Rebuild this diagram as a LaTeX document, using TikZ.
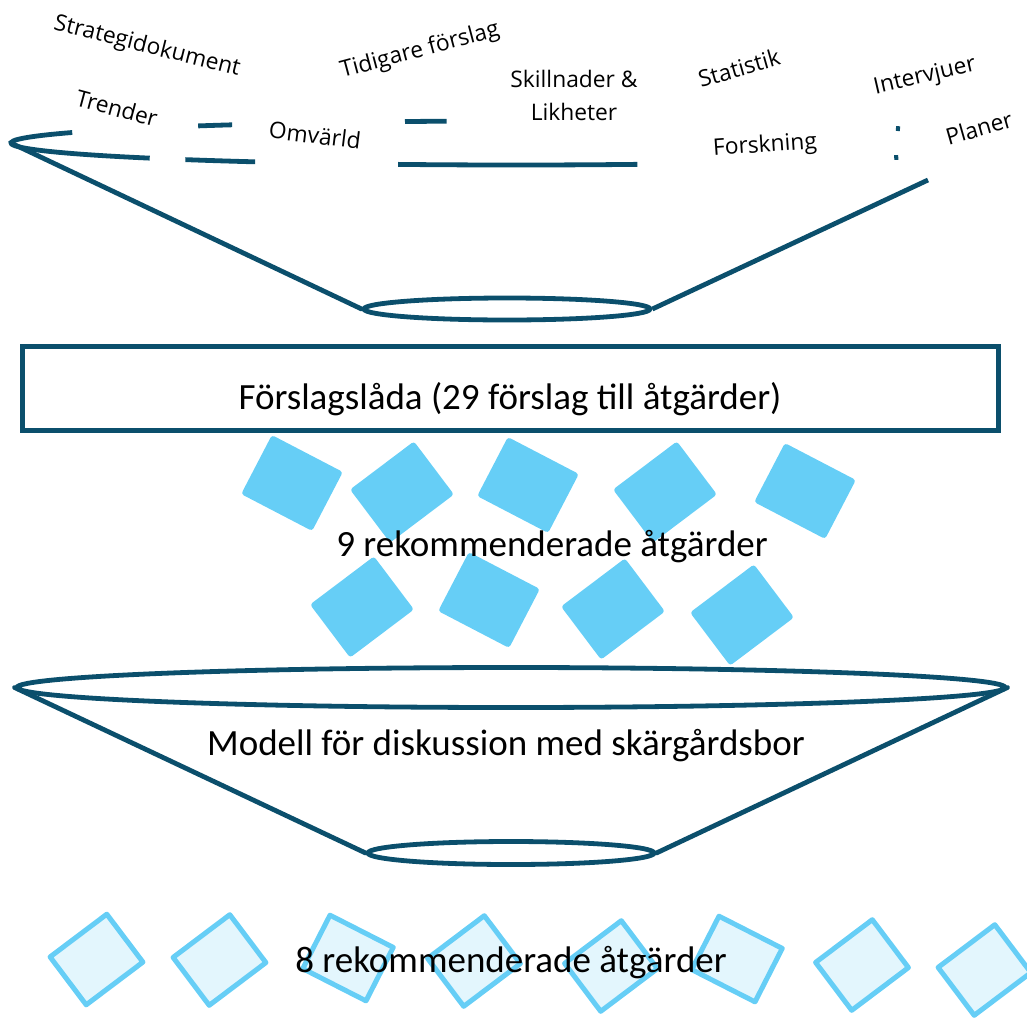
\documentclass[tikz,border=0pt]{standalone}
\usepackage{fontspec}
\setmainfont{Carlito}
\newfontfamily\labfont{Open Sans}
\usetikzlibrary{shapes.geometric}
\definecolor{tealline}{HTML}{0B4F6C}
\definecolor{sky}{HTML}{66CEF6}
\definecolor{skylight}{HTML}{E3F6FD}
\tikzset{
  rim/.style={draw=tealline, line width=4.8pt},
  funnelline/.style={draw=tealline, line width=4.8pt, line cap=round},
  lab/.style={font=\labfont\fontsize{22.8}{33}\selectfont, inner sep=0pt, align=center, text=black},
  mainlab/.style={font=\fontsize{37}{44}\selectfont, inner sep=0pt, anchor=base, text=black},
  fsq/.style={rectangle, fill=sky, rounded corners=3pt, minimum width=80pt, minimum height=66.5pt, inner sep=0pt},
  osq/.style={rectangle, draw=sky, fill=skylight, line width=5pt, line join=round, minimum width=71pt, minimum height=60pt, inner sep=0pt},
  rimell/.style={ellipse, draw=tealline, line width=4.8pt, inner sep=0pt},
}
\begin{document}
\begin{tikzpicture}[x=1pt, y=-1pt]
\useasboundingbox (0,0) rectangle (1027,1017);

% ---------- top funnel ----------
% visible pieces of the upper rim (partly hidden behind the labels)
\draw[rim, line cap=butt] (516,143) ++(136.5:505 and 22) arc[start angle=136.5, end angle=208.5, x radius=505, y radius=22];
\draw[rim, line cap=butt] (516,143) ++(231:505 and 22) arc[start angle=231, end angle=235.8, x radius=505, y radius=22];
\draw[rim, line cap=butt] (516,143) ++(257.3:505 and 22) arc[start angle=257.3, end angle=262.1, x radius=505, y radius=22];
\draw[rim, line cap=butt] (516,143) ++(318.8:505 and 22) arc[start angle=318.8, end angle=319.5, x radius=505, y radius=22];
\draw[rim, line cap=butt] (516,143) ++(121.1:505 and 22) arc[start angle=121.1, end angle=130.9, x radius=505, y radius=22];
\draw[rim, line cap=butt] (516,143) ++(76.1:505 and 22) arc[start angle=76.1, end angle=103.5, x radius=505, y radius=22];
\draw[rim, line cap=butt] (516,143) ++(40.8:505 and 22) arc[start angle=40.8, end angle=41.5, x radius=505, y radius=22];

\coordinate (TL) at (11,143);
\coordinate (TR) at (928,180);
\node[rimell, minimum width=286pt, minimum height=22pt] (S1) at (507,309) {};
\draw[funnelline] (TL) -- (S1.west);
\draw[funnelline, line cap=butt] (S1.east) -- (TR);

% labels
\node[lab, rotate=-14] (l1) at (147,47) {Strategidokument};
\node[lab, rotate=-15] (l2) at (117,108) {Trender};
\node[lab, rotate=15] (l3) at (420,51) {Tidigare förslag};
\node[lab, rotate=-7] (l4) at (315,135) {Omvärld};
\node[lab] (l5) at (574,95) {Skillnader \&\\Likheter};
\node[lab, rotate=16] (l6) at (739,68) {Statistik};
\node[lab, rotate=4] (l7) at (765,146) {Forskning};
\node[lab, rotate=13] (l8) at (925,77) {Intervjuer};
\node[lab, rotate=16] (l9) at (979,128) {Planer};

% ---------- box ----------
\node[draw=tealline, line width=5pt, minimum width=976pt, minimum height=84pt, inner sep=0pt] (box) at (510.5,388.5) {};
\node[mainlab] (boxtxt) at (510,409) {Förslagslåda (29 förslag till åtgärder)};

% ---------- nine filled squares ----------
\node[fsq, rotate=-27.5] (q1) at (292,483) {};
\node[fsq, rotate=37]    (q2) at (402,492) {};
\node[fsq, rotate=-27.5] (q3) at (528,485) {};
\node[fsq, rotate=37]    (q4) at (665,492) {};
\node[fsq, rotate=-27.5] (q5) at (805,491) {};
\node[fsq, rotate=37]    (q6) at (362,607) {};
\node[fsq, rotate=-27.5] (q7) at (489,600) {};
\node[fsq, rotate=37]    (q8) at (613,609) {};
\node[fsq, rotate=37]    (q9) at (742,615) {};
\node[mainlab] (nine) at (552,556) {9 rekommenderade åtgärder};

% ---------- bottom funnel ----------
\node[rimell, minimum width=988pt, minimum height=40pt] (E2) at (511,687.5) {};
\node[rimell, minimum width=286pt, minimum height=23pt] (S2) at (511,853) {};
\draw[funnelline] (E2.west) -- (S2.west);
\draw[funnelline] (E2.east) -- (S2.east);
\node[mainlab] (model) at (506,755) {Modell för diskussion med skärgårdsbor};

% ---------- eight outlined squares ----------
\node[osq, rotate=37]  (r1) at (96.5,959.5) {};
\node[osq, rotate=37]  (r2) at (219.5,960) {};
\node[osq, rotate=-27] (r3) at (348,958) {};
\node[osq, rotate=37]  (r4) at (474,961) {};
\node[osq, rotate=37]  (r5) at (611,966) {};
\node[osq, rotate=-27] (r6) at (737,959) {};
\node[osq, rotate=37]  (r7) at (862,965) {};
\node[osq, rotate=37]  (r8) at (984.5,970) {};
\node[mainlab] (eight) at (511,972) {8 rekommenderade åtgärder};
\end{tikzpicture}
\end{document}
